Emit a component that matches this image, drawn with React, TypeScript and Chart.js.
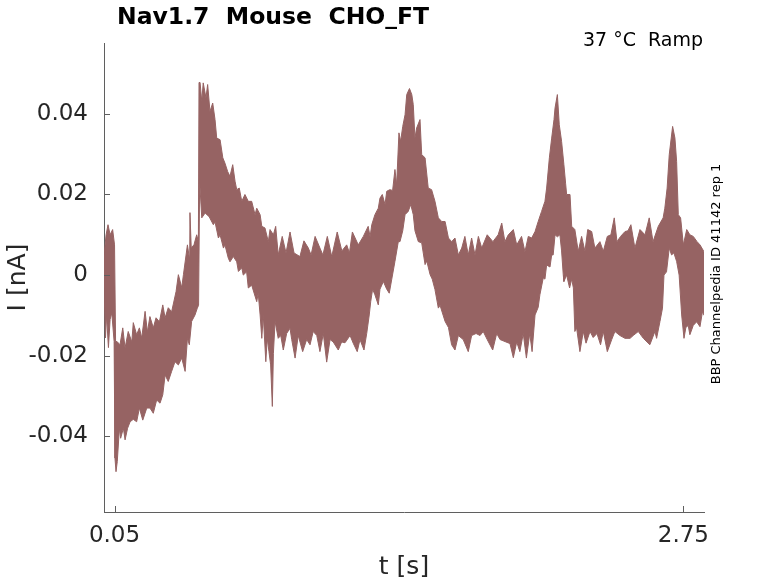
import { useEffect, useRef } from 'react';
import { Chart, registerables } from 'chart.js';

Chart.register(...registerables);

// upper edge of the noisy current trace: time (s) and current (nA)
const upperT = [
  0.000, 0.010, 0.019, 0.029, 0.041, 0.050, 0.055, 0.062, 0.076, 0.089,
  0.100, 0.115, 0.132, 0.139, 0.155, 0.168, 0.179, 0.195, 0.206, 0.218,
  0.234, 0.247, 0.263, 0.279, 0.290, 0.305, 0.321, 0.342, 0.353, 0.369,
  0.377, 0.396, 0.405, 0.408, 0.414, 0.427, 0.440, 0.448, 0.451, 0.456,
  0.464, 0.471, 0.484, 0.492, 0.503, 0.516, 0.527, 0.535, 0.551, 0.564,
  0.574, 0.587, 0.598, 0.611, 0.622, 0.630, 0.642, 0.654, 0.669, 0.685,
  0.701, 0.717, 0.725, 0.741, 0.749, 0.764, 0.780, 0.788, 0.804, 0.815,
  0.827, 0.846, 0.864, 0.883, 0.902, 0.930, 0.949, 0.970, 0.983, 1.002,
  1.025, 1.039, 1.060, 1.081, 1.107, 1.129, 1.152, 1.165, 1.179, 1.207,
  1.231, 1.254, 1.263, 1.271, 1.286, 1.302, 1.310, 1.321, 1.334, 1.342,
  1.357, 1.370, 1.381, 1.389, 1.400, 1.408, 1.418, 1.429, 1.437, 1.450,
  1.461, 1.468, 1.476, 1.484, 1.500, 1.508, 1.524, 1.539, 1.555, 1.571,
  1.587, 1.603, 1.619, 1.635, 1.650, 1.666, 1.682, 1.698, 1.713, 1.729,
  1.745, 1.761, 1.777, 1.793, 1.819, 1.846, 1.871, 1.888, 1.903, 1.919,
  1.943, 1.959, 1.982, 1.998, 2.014, 2.030, 2.046, 2.061, 2.077, 2.093,
  2.101, 2.114, 2.125, 2.136, 2.141, 2.152, 2.161, 2.172, 2.183, 2.191,
  2.196, 2.212, 2.220, 2.235, 2.251, 2.267, 2.283, 2.296, 2.315, 2.330,
  2.354, 2.370, 2.389, 2.406, 2.422, 2.435, 2.452, 2.473, 2.487, 2.501,
  2.520, 2.544, 2.568, 2.588, 2.606, 2.631, 2.654, 2.662, 2.673, 2.683,
  2.699, 2.710, 2.718, 2.726, 2.737, 2.750, 2.766, 2.781, 2.797, 2.815,
  2.829, 2.848,
];
const upperNA = [
  0.0050, 0.0100, 0.0125, 0.0100, 0.0113, 0.0075, -0.0165, -0.0165, -0.0173, -0.0131,
  -0.0181, -0.0140, -0.0166, -0.0118, -0.0148, -0.0131, -0.0156, -0.0090, -0.0141, -0.0103,
  -0.0131, -0.0106, -0.0116, -0.0074, -0.0106, -0.0081, -0.0091, -0.0041, 0.0001, -0.0031,
  0.0001, 0.0075, 0.0043, 0.0155, 0.0068, 0.0075, 0.0100, 0.0083, 0.0478, 0.0478,
  0.0431, 0.0477, 0.0440, 0.0473, 0.0406, 0.0427, 0.0386, 0.0340, 0.0336, 0.0291,
  0.0278, 0.0257, 0.0245, 0.0274, 0.0233, 0.0212, 0.0216, 0.0183, 0.0200, 0.0183,
  0.0183, 0.0150, 0.0166, 0.0150, 0.0121, 0.0117, 0.0083, 0.0113, 0.0100, 0.0121,
  0.0050, 0.0096, 0.0055, 0.0107, 0.0055, 0.0046, 0.0085, 0.0067, 0.0050, 0.0096,
  0.0067, 0.0050, 0.0096, 0.0046, 0.0107, 0.0060, 0.0075, 0.0055, 0.0107, 0.0075,
  0.0096, 0.0121, 0.0095, 0.0125, 0.0150, 0.0166, 0.0191, 0.0200, 0.0175, 0.0208,
  0.0212, 0.0210, 0.0262, 0.0224, 0.0353, 0.0332, 0.0369, 0.0398, 0.0448, 0.0463,
  0.0448, 0.0423, 0.0340, 0.0365, 0.0386, 0.0299, 0.0291, 0.0216, 0.0212, 0.0183,
  0.0142, 0.0133, 0.0133, 0.0092, 0.0083, 0.0092, 0.0050, 0.0067, 0.0096, 0.0050,
  0.0092, 0.0050, 0.0096, 0.0067, 0.0100, 0.0083, 0.0100, 0.0129, 0.0083, 0.0100,
  0.0113, 0.0075, 0.0096, 0.0058, 0.0096, 0.0092, 0.0108, 0.0133, 0.0158, 0.0183,
  0.0216, 0.0291, 0.0340, 0.0386, 0.0415, 0.0448, 0.0373, 0.0332, 0.0274, 0.0228,
  0.0200, 0.0200, 0.0121, 0.0113, 0.0059, 0.0096, 0.0059, 0.0113, 0.0108, 0.0067,
  0.0083, 0.0059, 0.0096, 0.0100, 0.0142, 0.0083, 0.0096, 0.0108, 0.0110, 0.0125,
  0.0067, 0.0113, 0.0100, 0.0142, 0.0083, 0.0121, 0.0142, 0.0166, 0.0216, 0.0299,
  0.0369, 0.0340, 0.0282, 0.0150, 0.0142, 0.0075, 0.0113, 0.0100, 0.0096, 0.0083,
  0.0075, 0.0058,
];

// lower edge of the noisy current trace: time (s) and current (nA)
const lowerT = [
  0.000, 0.007, 0.012, 0.021, 0.029, 0.037, 0.048, 0.052, 0.057, 0.063,
  0.073, 0.079, 0.092, 0.100, 0.112, 0.124, 0.139, 0.155, 0.168, 0.184,
  0.203, 0.218, 0.234, 0.250, 0.266, 0.279, 0.290, 0.305, 0.321, 0.337,
  0.353, 0.369, 0.385, 0.396, 0.405, 0.416, 0.432, 0.443, 0.449, 0.454,
  0.464, 0.480, 0.499, 0.519, 0.527, 0.543, 0.551, 0.567, 0.574, 0.590,
  0.598, 0.614, 0.630, 0.638, 0.654, 0.661, 0.677, 0.685, 0.701, 0.725,
  0.732, 0.741, 0.749, 0.756, 0.768, 0.775, 0.783, 0.791, 0.799, 0.804,
  0.812, 0.827, 0.839, 0.851, 0.867, 0.883, 0.891, 0.907, 0.922, 0.943,
  0.962, 0.978, 0.993, 1.010, 1.025, 1.041, 1.057, 1.073, 1.088, 1.112,
  1.128, 1.144, 1.168, 1.183, 1.202, 1.215, 1.234, 1.247, 1.259, 1.266,
  1.275, 1.286, 1.302, 1.310, 1.326, 1.342, 1.354, 1.366, 1.381, 1.397,
  1.405, 1.418, 1.429, 1.444, 1.456, 1.468, 1.476, 1.492, 1.508, 1.524,
  1.532, 1.548, 1.558, 1.571, 1.587, 1.595, 1.619, 1.635, 1.650, 1.666,
  1.682, 1.705, 1.729, 1.745, 1.766, 1.785, 1.800, 1.819, 1.845, 1.864,
  1.880, 1.908, 1.927, 1.943, 1.959, 1.974, 1.990, 2.005, 2.021, 2.032,
  2.046, 2.061, 2.069, 2.085, 2.093, 2.101, 2.117, 2.125, 2.132, 2.141,
  2.152, 2.164, 2.172, 2.180, 2.183, 2.196, 2.210, 2.220, 2.228, 2.235,
  2.243, 2.259, 2.275, 2.288, 2.307, 2.322, 2.340, 2.357, 2.370, 2.389,
  2.410, 2.425, 2.449, 2.473, 2.497, 2.512, 2.536, 2.560, 2.591, 2.615,
  2.623, 2.639, 2.651, 2.658, 2.670, 2.683, 2.694, 2.705, 2.718, 2.730,
  2.742, 2.753, 2.762, 2.773, 2.781, 2.797, 2.813, 2.829, 2.841, 2.848,
];
const lowerNA = [
  -0.0030, -0.0156, -0.0099, -0.0180, -0.0110, -0.0094, -0.0165, -0.0454, -0.0488, -0.0463,
  -0.0380, -0.0405, -0.0380, -0.0409, -0.0380, -0.0364, -0.0358, -0.0364, -0.0330, -0.0360,
  -0.0330, -0.0330, -0.0343, -0.0310, -0.0318, -0.0297, -0.0248, -0.0264, -0.0239, -0.0215,
  -0.0223, -0.0206, -0.0239, -0.0157, -0.0173, -0.0115, -0.0099, -0.0082, -0.0075, 0.0233,
  0.0142, 0.0154, 0.0145, 0.0125, 0.0132, 0.0092, 0.0100, 0.0067, 0.0075, 0.0042,
  0.0033, 0.0046, 0.0033, 0.0009, 0.0018, 0.0000, 0.0008, -0.0032, -0.0025, -0.0066,
  -0.0045, -0.0099, -0.0157, -0.0099, -0.0215, -0.0157, -0.0190, -0.0223, -0.0326, -0.0195,
  -0.0115, -0.0157, -0.0150, -0.0186, -0.0145, -0.0132, -0.0160, -0.0206, -0.0150, -0.0190,
  -0.0160, -0.0173, -0.0140, -0.0150, -0.0190, -0.0145, -0.0216, -0.0160, -0.0166, -0.0186,
  -0.0166, -0.0168, -0.0150, -0.0169, -0.0190, -0.0160, -0.0186, -0.0145, -0.0099, -0.0066,
  -0.0035, -0.0049, -0.0074, -0.0035, -0.0016, -0.0035, -0.0045, -0.0010, 0.0034, 0.0083,
  0.0083, 0.0110, 0.0150, 0.0158, 0.0175, 0.0150, 0.0110, 0.0083, 0.0080, 0.0026,
  0.0035, 0.0001, -0.0010, -0.0036, -0.0082, -0.0075, -0.0115, -0.0130, -0.0173, -0.0186,
  -0.0150, -0.0160, -0.0190, -0.0150, -0.0145, -0.0150, -0.0140, -0.0160, -0.0186, -0.0145,
  -0.0160, -0.0166, -0.0170, -0.0205, -0.0166, -0.0190, -0.0145, -0.0206, -0.0145, -0.0190,
  -0.0099, -0.0080, -0.0049, -0.0007, -0.0010, 0.0025, 0.0020, 0.0050, 0.0050, 0.0100,
  0.0095, 0.0100, 0.0060, 0.0000, -0.0016, 0.0000, -0.0032, -0.0010, -0.0032, -0.0140,
  -0.0130, -0.0190, -0.0140, -0.0169, -0.0140, -0.0155, -0.0145, -0.0173, -0.0140, -0.0190,
  -0.0160, -0.0140, -0.0150, -0.0157, -0.0157, -0.0150, -0.0140, -0.0157, -0.0173, -0.0140,
  -0.0157, -0.0115, -0.0082, 0.0000, 0.0008, 0.0067, 0.0050, 0.0055, 0.0034, 0.0000,
  -0.0099, -0.0157, -0.0130, -0.0125, -0.0148, -0.0125, -0.0116, -0.0128, -0.0090, -0.0100,
];

const xTicks = [0.05, 2.75];
const yTicks = [-0.04, -0.02, 0, 0.02, 0.04];

const traceColor = '#966363';
const axisColor = '#5f5f5f';
const textColor = '#262626';
const font = 'DejaVu Sans';

const annotations = {
  id: 'annotations',
  afterDraw(chart: any) {
    const { ctx, chartArea, scales } = chart;
    ctx.save();
    // inward tick marks
    ctx.strokeStyle = axisColor;
    ctx.lineWidth = 1;
    ctx.beginPath();
    xTicks.forEach((t) => {
      const px = Math.round(scales.x.getPixelForValue(t)) + 0.5;
      ctx.moveTo(px, chartArea.bottom);
      ctx.lineTo(px, chartArea.bottom - 6);
    });
    yTicks.forEach((v) => {
      const py = Math.round(scales.y.getPixelForValue(v)) + 0.5;
      ctx.moveTo(chartArea.left, py);
      ctx.lineTo(chartArea.left + 6, py);
    });
    ctx.stroke();

    // title
    ctx.fillStyle = '#000';
    ctx.font = `bold 23.5px "${font}"`;
    ctx.textAlign = 'left';
    ctx.textBaseline = 'middle';
    ctx.fillText('Nav1.7  Mouse  CHO_FT', 117, 18);

    ctx.font = `19px "${font}"`;
    ctx.textAlign = 'right';
    ctx.fillText('37 °C  Ramp', 703, 41);

    // axis titles
    ctx.fillStyle = textColor;
    ctx.font = `25px "${font}"`;
    ctx.textAlign = 'center';
    ctx.fillText('t [s]', (chartArea.left + chartArea.right) / 2, 567);
    ctx.save();
    ctx.translate(18, (chartArea.top + chartArea.bottom) / 2);
    ctx.rotate(-Math.PI / 2);
    ctx.fillText('I [nA]', 0, 0);
    ctx.restore();

    // side label
    ctx.fillStyle = '#000';
    ctx.font = `13px "${font}"`;
    ctx.save();
    ctx.translate(717, 274);
    ctx.rotate(-Math.PI / 2);
    ctx.fillText('BBP Channelpedia ID 41142 rep 1', 0, 0);
    ctx.restore();
    ctx.restore();
  },
};

const App = () => {
  const canvasRef = useRef<HTMLCanvasElement>(null);

  useEffect(() => {
    if (!canvasRef.current) return;
    const upper = upperT.map((t, i) => ({ x: t, y: upperNA[i] }));
    const lower = lowerT.map((t, i) => ({ x: t, y: lowerNA[i] }));

    const chart = new Chart(canvasRef.current, {
      type: 'line',
      data: {
        datasets: [
          {
            data: upper,
            borderColor: traceColor,
            borderWidth: 1,
            pointRadius: 0,
            fill: false,
          },
          {
            data: lower,
            borderColor: traceColor,
            backgroundColor: traceColor,
            borderWidth: 1,
            pointRadius: 0,
            fill: '-1',
          },
        ],
      },
      options: {
        animation: false,
        responsive: true,
        maintainAspectRatio: false,
        layout: { padding: { left: 0, top: 43, right: 74, bottom: 0 } },
        plugins: {
          legend: { display: false },
          tooltip: { enabled: false },
        },
        scales: {
          x: {
            type: 'linear',
            min: 0,
            max: 2.848,
            afterFit: (s: any) => { s.height = 71; },
            afterBuildTicks: (s: any) => { s.ticks = xTicks.map((v) => ({ value: v })); },
            grid: { display: false, drawTicks: false },
            border: { display: true, color: axisColor, width: 1 },
            ticks: {
              color: textColor,
              font: { family: font, size: 23 },
              padding: 10,
              maxRotation: 0,
              autoSkip: false,
              callback: (v: any) => Number(v).toFixed(2),
            },
          },
          y: {
            min: -0.0588,
            max: 0.0576,
            afterFit: (s: any) => { s.width = 104; },
            afterBuildTicks: (s: any) => { s.ticks = yTicks.map((v) => ({ value: v })); },
            grid: { display: false, drawTicks: false },
            border: { display: true, color: axisColor, width: 1 },
            ticks: {
              color: textColor,
              font: { family: font, size: 23 },
              padding: 16,
              autoSkip: false,
              callback: (v: any) => (Number(v) === 0 ? '0' : Number(v).toFixed(2)),
            },
          },
        },
      },
      plugins: [annotations],
    });

    return () => {
      chart.destroy();
    };
  }, []);

  return (
    <div style={{ position: 'fixed', left: 0, top: 0, width: 778, height: 583, background: '#fff' }}>
      <canvas ref={canvasRef}></canvas>
    </div>
  );
};

export default App;
